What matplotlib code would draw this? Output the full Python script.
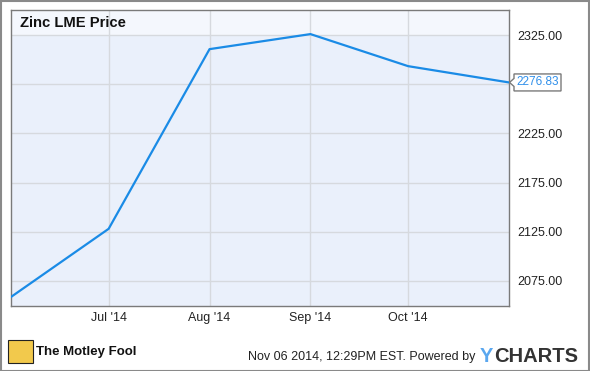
import numpy as np
import matplotlib.pyplot as plt
from matplotlib.patches import Rectangle, Polygon

plt.rcParams['font.family'] = ['Liberation Sans', 'DejaVu Sans']

dates = np.array(['2014-06-01', '2014-07-01', '2014-08-01', '2014-09-01',
                  '2014-10-01', '2014-11-01'], dtype='datetime64[D]')
price = [2058.7, 2128.0, 2310.7, 2326.0, 2293.4, 2276.83]
ytick_vals = [2075, 2125, 2175, 2225, 2275, 2325]
xtick_dates = np.array(['2014-07-01', '2014-08-01', '2014-09-01',
                        '2014-10-01'], dtype='datetime64[D]')
xtick_labels = ["Jul '14", "Aug '14", "Sep '14", "Oct '14"]

W, H = 590, 371
fig = plt.figure(figsize=(W / 100, H / 100), dpi=100)
fig.patch.set_facecolor('white')
# outer border
fig.add_artist(Rectangle((0.5 / W, 0.5 / H), 1 - 1.5 / W, 1 - 1.5 / H,
                         transform=fig.transFigure, fill=False,
                         edgecolor='#8a8a8a', linewidth=1.5))

ax = fig.add_axes([11 / W, (H - 306) / H, 498 / W, 296 / H])
ax.set_facecolor('#eaf0fb')
ax.set_xlim(dates[0], dates[-1])
ax.set_ylim(2049.5, 2350.5)

ax.axhspan(2325, 2350.5, color='#f4f7fd', zorder=0)
for y in ytick_vals:
    ax.axhline(y, color='#d6d9de', linewidth=1, zorder=1)
for d in xtick_dates:
    ax.axvline(d, color='#d6d9de', linewidth=1, zorder=1)

ax.plot(dates, price, color='#1a8be6', linewidth=1.6, zorder=3)

ax.set_xticks(xtick_dates)
ax.set_xticklabels(xtick_labels, fontsize=9, color='#222222')
ax.yaxis.tick_right()
ax.set_yticks([v for v in ytick_vals if v != 2275])
ax.set_yticklabels(['%.2f' % v for v in ytick_vals if v != 2275],
                   fontsize=9, color='#222222')
ax.tick_params(axis='x', length=0, pad=4)
ax.tick_params(axis='y', length=0, pad=6)
for s in ax.spines.values():
    s.set_color('#7a7a7a')
    s.set_linewidth(1)

ax.text(0.018, 0.957, 'Zinc LME Price', transform=ax.transAxes,
        fontsize=10.6, fontweight='bold', va='center', ha='left',
        color='#111111')

# last value flag: box with a small pointer, placed via data transform
px, py = ax.transData.transform((ax.get_xlim()[1], price[-1]))
py = H - py  # to top-origin pixels
verts = [(509.5, py), (514, py - 4), (514, py - 8.5), (561, py - 8.5),
         (561, py + 8.5), (514, py + 8.5), (514, py + 4)]
verts = [(x / W, 1 - y / H) for x, y in verts]
fig.add_artist(Polygon(verts, closed=True, transform=fig.transFigure,
                       facecolor='white', edgecolor='#7a7a7a', linewidth=1))
fig.text(537.5 / W, 1 - py / H, '%.2f' % price[-1], fontsize=8.5,
         color='#2f8fea', va='center', ha='center')

# footer
fig.add_artist(Rectangle((8 / W, (H - 363) / H), 25 / W, 23 / H,
                         transform=fig.transFigure, facecolor='#f2c94c',
                         edgecolor='#222222', linewidth=0.8))
fig.text(36 / W, (H - 352) / H, 'The Motley Fool', fontsize=9.5,
         fontweight='bold', color='#111111', va='center', ha='left')
fig.text(475 / W, (H - 357) / H, 'Nov 06 2014, 12:29PM EST. Powered by',
         fontsize=9, color='#222222', va='center', ha='right')
fig.text(480 / W, (H - 356) / H, 'Y', fontsize=14.5, fontweight='bold',
         color='#5aa7ef', va='center', ha='left')
fig.text(578 / W, (H - 356) / H, 'CHARTS', fontsize=14.5, fontweight='bold',
         color='#333333', va='center', ha='right')

fig.savefig('out.png', dpi=100)
